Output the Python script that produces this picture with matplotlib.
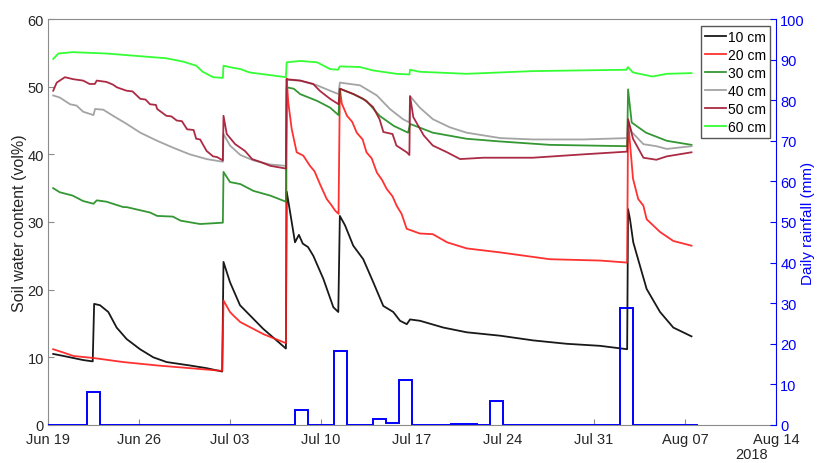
import matplotlib
matplotlib.use("Agg")
import matplotlib.pyplot as plt
import matplotlib.dates as mdates
import datetime as dt

plt.rcParams['font.family'] = ['Liberation Sans', 'DejaVu Sans']

# ---------------- data (days since 2018-06-19) ----------------
t10 = [0.4, 1.2, 1.95, 2.7, 3.44, 3.55, 4.0, 4.64, 5.28, 6.05, 7.08, 8.1, 9.13, 10.9, 12.2, 13.4, 13.5, 14.0, 14.77, 15.28,
       16.56, 18.3, 18.36, 18.62, 19.0, 19.3, 19.6, 20.0, 20.41, 21.18, 21.95, 22.33, 22.45, 22.85, 23.48, 24.25, 25.02,
       25.79, 26.56, 27.08, 27.6, 27.85, 28.62, 30.41, 32.21, 34.77, 37.33, 39.9, 42.46, 44.55, 44.62, 44.77, 45.02,
       45.54, 46.05, 47.08, 48.1, 49.5]
v10 = [10.5, 10.2, 9.9, 9.6, 9.4, 17.9, 17.7, 16.7, 14.4, 12.7, 11.2, 10.0, 9.3, 8.8, 8.4, 7.9, 24.1, 21.1, 17.7, 16.7,
       14.2, 11.3, 34.5, 31.5, 27.0, 28.1, 26.8, 26.3, 25.0, 21.6, 17.4, 16.7, 30.9, 29.5, 26.5, 24.5, 21.1,
       17.6, 16.7, 15.4, 14.9, 15.6, 15.4, 14.4, 13.7, 13.2, 12.5, 12.0, 11.7, 11.2, 31.9, 30.4, 27.0,
       23.5, 20.1, 16.7, 14.4, 13.1]

t20 = [0.4, 1.2, 1.95, 3.5, 5.8, 8.4, 10.9, 13.4, 13.5, 14.0, 14.25, 14.8, 15.3, 16.6, 18.3, 18.36, 18.48, 18.75, 19.13,
       19.64, 20.15, 20.5, 20.92, 21.44, 21.8, 22.08, 22.35, 22.45, 22.6, 23.0, 23.4, 23.75, 24.2, 24.5, 24.9, 25.3, 25.7,
       26.05, 26.5, 26.82, 27.2, 27.59, 28.6, 29.6, 30.7, 32.2, 34.8, 38.6, 42.5, 44.55, 44.62, 45.0, 45.4, 45.8, 46.05,
       47.1, 48.1, 49.5]
v20 = [11.2, 10.7, 10.2, 9.9, 9.3, 8.8, 8.4, 8.0, 18.4, 16.7, 16.2, 15.2, 14.7, 13.4, 12.1, 51.2, 47.7, 43.7, 40.3,
       39.8, 38.3, 37.5, 35.6, 33.4, 32.5, 31.7, 31.2, 49.7, 47.5, 45.7, 44.8, 43.2, 42.2, 40.3, 39.4, 37.3, 36.2,
       34.9, 33.8, 32.4, 31.2, 29.0, 28.3, 28.2, 27.0, 26.1, 25.5, 24.5, 24.3, 24.0, 45.0, 36.4, 33.4, 32.4, 30.4,
       28.5, 27.2, 26.5]

t30 = [0.4, 0.9, 1.9, 2.7, 3.5, 3.75, 4.5, 5.8, 6.05, 7.85, 8.4, 9.6, 10.2, 11.7, 13.45, 13.5, 14.0, 14.8, 15.8, 17.1,
       18.3, 18.36, 18.9, 19.4, 20.7, 21.7, 22.35, 22.45, 23.5, 24.5, 25.5, 26.6, 27.7, 27.85, 29.6, 32.2, 34.8, 38.6,
       44.55, 44.62, 44.9, 46.0, 47.6, 49.5]
v30 = [35.0, 34.4, 33.9, 33.1, 32.7, 33.2, 33.0, 32.2, 32.2, 31.4, 30.9, 30.8, 30.2, 29.7, 29.9, 37.4, 35.9, 35.6, 34.6, 33.9,
       33.0, 49.9, 49.7, 48.9, 47.9, 46.9, 45.8, 49.7, 48.9, 47.9, 45.7, 44.2, 43.2, 44.5, 43.2, 42.3, 41.9, 41.4,
       41.2, 49.6, 44.7, 43.2, 42.0, 41.4]

t40 = [0.4, 0.9, 1.7, 2.2, 2.7, 3.5, 3.62, 4.25, 5.0, 6.05, 7.1, 8.4, 9.6, 10.9, 12.2, 13.45, 13.5, 14.0, 14.8, 15.8,
       17.1, 18.3, 18.36, 19.4, 20.7, 21.7, 22.35, 22.45, 24.0, 25.3, 26.3, 27.3, 27.8, 27.85, 28.6, 29.6, 30.9, 32.2,
       34.8, 37.3, 41.2, 44.55, 44.62, 44.9, 45.8, 46.8, 47.6, 49.5]
v40 = [48.7, 48.4, 47.4, 47.2, 46.3, 45.8, 46.7, 46.6, 45.7, 44.5, 43.2, 42.0, 41.0, 40.0, 39.3, 38.9, 43.0, 41.3, 39.9, 39.1,
       38.5, 38.3, 51.0, 50.9, 50.2, 49.4, 48.9, 50.6, 50.2, 48.7, 46.7, 45.2, 44.7, 48.6, 46.9, 45.2, 44.0, 43.2,
       42.4, 42.2, 42.2, 42.4, 45.0, 43.3, 41.5, 41.2, 40.8, 41.2]

t50 = [0.4, 0.67, 1.3, 1.95, 2.7, 3.2, 3.6, 3.75, 4.5, 5.0, 5.3, 6.05, 6.5, 7.1, 7.5, 7.85, 8.3, 8.4, 9.1, 9.5,
       9.9, 10.3, 10.7, 11.2, 11.4, 11.7, 12.2, 12.7, 13.0, 13.45, 13.5, 13.75, 14.4, 15.15, 15.7, 16.3, 17.1, 18.3,
       18.36, 19.4, 20.4, 20.9, 21.7, 22.35, 22.45, 23.5, 24.25, 25.0, 25.5, 25.8, 26.5, 26.8, 27.6, 27.8, 27.85, 28.1,
       28.9, 29.6, 30.7, 31.7, 33.5, 37.3, 41.2, 44.55, 44.62, 45.0, 45.8, 46.8, 47.6, 49.5]
v50 = [49.4, 50.6, 51.4, 51.1, 50.9, 50.4, 50.4, 50.9, 50.7, 50.3, 49.9, 49.4, 49.3, 48.2, 48.1, 47.4, 47.3, 46.7, 45.7, 45.6,
       45.0, 44.9, 43.7, 43.6, 42.3, 42.2, 40.5, 39.7, 39.6, 39.1, 45.7, 43.0, 41.5, 40.5, 39.3, 38.9, 38.3, 37.9,
       51.1, 50.9, 50.4, 49.4, 48.2, 47.4, 49.7, 48.9, 48.2, 47.0, 45.2, 43.3, 43.0, 41.3, 40.3, 39.9, 48.6, 45.5,
       42.8, 41.3, 40.3, 39.3, 39.5, 39.5, 40.0, 40.4, 45.2, 42.3, 39.5, 39.2, 39.7, 40.3]

t60 = [0.4, 0.8, 1.9, 4.5, 7.1, 9.1, 10.4, 11.4, 11.9, 12.7, 13.45, 13.5, 14.2, 14.8, 15.5, 16.3, 18.3, 18.36, 19.4, 20.7,
       21.7, 22.3, 22.45, 24.0, 25.0, 26.8, 27.8, 27.85, 28.6, 32.2, 37.3, 44.5, 44.6, 45.0, 46.5, 47.6, 49.5]
v60 = [54.1, 54.9, 55.1, 54.9, 54.5, 54.2, 53.7, 53.1, 52.2, 51.4, 51.3, 53.1, 52.8, 52.6, 52.1, 51.9, 51.4, 53.6, 53.8, 53.6,
       52.6, 52.5, 53.0, 52.9, 52.4, 51.9, 51.8, 52.5, 52.2, 51.9, 52.3, 52.5, 52.9, 52.1, 51.5, 51.9, 52.0]

# daily rainfall, one value per day from Jun 19 to Aug 07
rain = [0, 0, 0, 8.1, 0, 0, 0, 0, 0, 0,
        0, 0, 0, 0, 0, 0, 0, 0, 0, 3.8,
        0, 0, 18.2, 0, 0, 1.5, 0.6, 11.0, 0, 0,
        0, 0.3, 0.3, 0, 6.0, 0, 0, 0, 0, 0,
        0, 0, 0, 0, 28.8, 0, 0, 0, 0, 0]

labels = ['10 cm', '20 cm', '30 cm', '40 cm', '50 cm', '60 cm']
colors = ['#000000', '#FF1A1A', '#1E8C1E', '#9A9A9A', '#A2142F', '#1EFF1E']
xtick_days = [0, 7, 14, 21, 28, 35, 42, 49, 56]

start = dt.datetime(2018, 6, 19)


def dnum(days):
    return [mdates.date2num(start + dt.timedelta(days=d)) for d in days]


fig = plt.figure(figsize=(8.17, 4.64), dpi=100)
ax = fig.add_axes([48 / 817, 38 / 464, 728 / 817, 406 / 464])
ax2 = ax.twinx()

series = [(t10, v10), (t20, v20), (t30, v30), (t40, v40), (t50, v50), (t60, v60)]
handles = []
for (t, v), lab, c in zip(series, labels, colors):
    h, = ax.plot(dnum(t), v, color=c, lw=1.3, alpha=0.9, label=lab)
    handles.append(h)

edges = dnum(range(len(rain) + 1))
ax2.stairs(rain, edges, baseline=0, fill=False, color='#0000FF', lw=1.4)

xt = dnum(xtick_days)
ax.set_xlim(xt[0], xt[-1])
ax.set_xticks(xt)
ax.xaxis.set_major_formatter(mdates.DateFormatter('%b %d'))
ax.set_ylim(0, 60)
ax.set_yticks(range(0, 61, 10))
ax2.set_ylim(0, 100)
ax2.set_yticks(range(0, 101, 10))

axc = '#8c8c8c'
txtc = '#262626'
for s in ['left', 'top', 'bottom']:
    ax.spines[s].set_color(axc)
    ax2.spines[s].set_visible(False)
ax.spines['right'].set_visible(False)
ax2.spines['right'].set_color('#0000FF')

ax.tick_params(axis='both', direction='in', length=4, color=axc, labelcolor=txtc, labelsize=10.5)
ax.tick_params(axis='x', pad=5)
ax.tick_params(axis='y', pad=3)
ax2.tick_params(axis='y', direction='in', length=4, color='#0000FF', labelcolor='#0000FF', labelsize=10.5, pad=3)

ax.set_ylabel('Soil water content (vol%)', fontsize=11.5, color=txtc)
ax.yaxis.set_label_coords(-0.029, 0.5)
ax2.set_ylabel('Daily rainfall (mm)', fontsize=11, color='#0000FF')
ax2.yaxis.set_label_coords(1.035, 0.5)

fig.text(752 / 817, 1 - 455 / 464, '2018', ha='center', va='center', fontsize=10.5, color=txtc)

leg = ax2.legend(handles=handles, loc='upper right', bbox_to_anchor=(770 / 817, 1 - 27 / 464),
                 bbox_transform=fig.transFigure, fontsize=10, frameon=True, fancybox=False,
                 framealpha=1, edgecolor='#555555', labelspacing=0.28, handlelength=1.45,
                 handletextpad=0.15, borderpad=0.3, borderaxespad=0)
leg.get_frame().set_linewidth(1.0)

fig.savefig('out.png', dpi=100)
